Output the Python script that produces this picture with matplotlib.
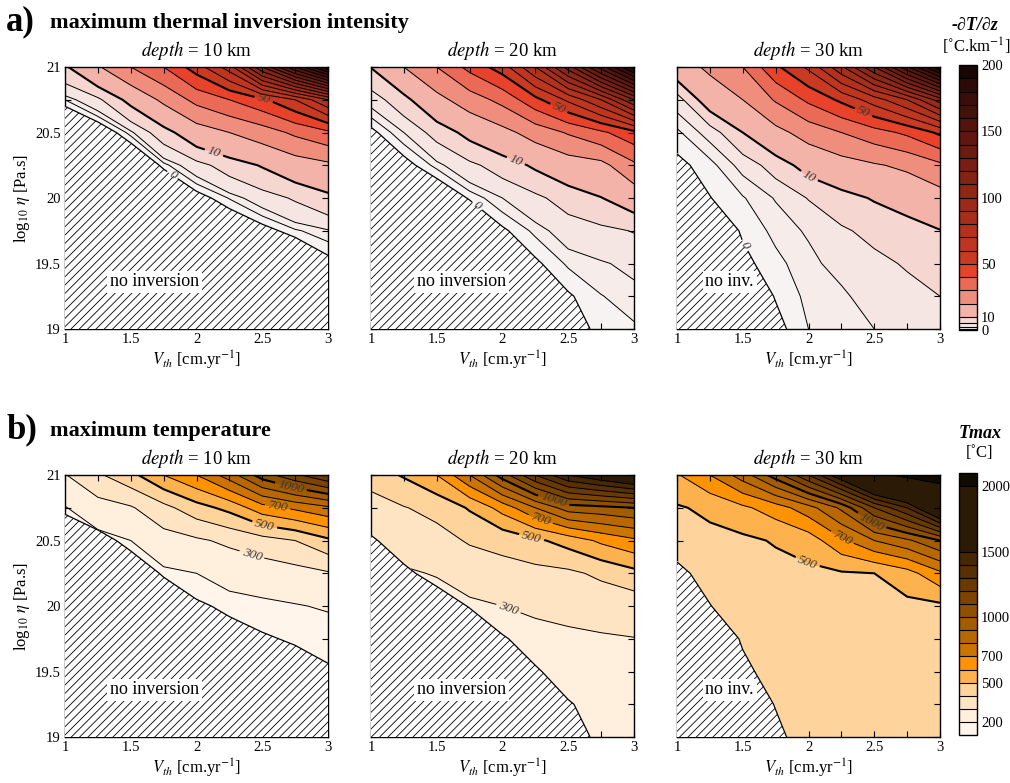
import numpy as np
import matplotlib
matplotlib.use("Agg")
import matplotlib.pyplot as plt
from matplotlib.ticker import MultipleLocator, FormatStrFormatter

plt.rcParams['font.family'] = ['Liberation Serif', 'DejaVu Serif']
plt.rcParams['mathtext.fontset'] = 'stix'
plt.rcParams['hatch.linewidth'] = 0.6
plt.rcParams['hatch.color'] = 'black'

# grid axes
v_th = [1.0, 1.25, 1.5, 1.75, 2.0, 2.25, 2.5, 2.75, 3.0]
log_eta = [19.0, 19.25, 19.5, 19.75, 20.0, 20.25, 20.5, 20.75, 21.0]
depths = [10, 20, 30]

# -dT/dz (degC/km), rows = log_eta (bottom -> top), cols = v_th; < 0 means no inversion
grad_10 = [
    [-34, -32, -28, -23, -20, -17, -15, -13, -10],
    [-29, -27, -23, -18, -15, -12, -10, -8, -5],
    [-24, -22, -18, -13, -10, -7, -5, -3.2, -0.6],
    [-19, -17, -13, -8, -5, -2.3, -0.8, 0.8, 1.8],
    [-14, -12, -8, -3.7, -0.9, 1.1, 3.2, 5.5, 8.5],
    [-9, -7, -3.2, 0.5, 3.5, 7, 10.5, 15, 18],
    [-4, -1.9, 1.5, 7.5, 15, 20, 25, 32, 38],
    [1, 4, 12, 22, 33, 40, 48, 60, 80],
    [9, 19, 30, 40, 55, 75, 120, 160, 198],
]
grad_20 = [
    [-30, -25, -18, -14, -12, -6, -1, 0.5, 0.85],
    [-25, -20, -14, -10, -8, -3, -0.2, 0.95, 1.5],
    [-20, -15, -10, -6.5, -4, -0.3, 1.2, 1.8, 2.5],
    [-15, -10, -6, -3, -0.3, 1.3, 3, 4, 5.2],
    [-10, -5, -2.1, 0.2, 2, 4, 7, 9.8, 14],
    [-5, -0.78, 1.4, 4, 7, 11, 15, 17, 28],
    [-0.53, 2, 6.5, 12, 17, 24, 31, 38, 47],
    [2.8, 8, 17, 25, 33, 47, 62, 80, 110],
    [10.2, 20, 30, 43, 55, 80, 115, 155, 195],
]
grad_30 = [
    [-10, -6, -2.5, -0.5, 1.0, 1.3, 2.0, 2.6, 3.6],
    [-8, -4.5, -1.5, 0.1, 1.3, 1.7, 2.8, 3.8, 5.0],
    [-6, -3, -0.4, 0.7, 1.6, 2.6, 4, 5.4, 6.8],
    [-4, -1.5, 0.2, 1.3, 2.2, 4.4, 6.2, 8, 9.8],
    [-2, -0.05, 0.9, 2.1, 5.2, 8, 10.5, 12.5, 16],
    [-0.4, 0.6, 2.5, 7, 12.5, 16, 19, 22, 28],
    [0.75, 2.6, 10, 17, 24, 30, 36, 42, 52],
    [2.8, 14, 20, 31, 42, 52, 65, 80, 105],
    [15, 22, 30, 48, 62, 88, 120, 158, 198],
]

# Tmax (degC), same layout
tmax_10 = [
    [80, 82, 85, 88, 92, 96, 100, 104, 108],
    [85, 90, 92, 95, 100, 105, 110, 115, 120],
    [95, 98, 100, 105, 110, 118, 125, 130, 138],
    [105, 108, 112, 120, 128, 140, 148, 155, 165],
    [115, 120, 130, 145, 155, 175, 185, 195, 208],
    [130, 140, 160, 185, 200, 230, 245, 265, 290],
    [150, 170, 200, 260, 285, 320, 360, 400, 480],
    [195, 260, 290, 370, 460, 530, 660, 720, 780],
    [295, 385, 470, 600, 700, 850, 1050, 1180, 1300],
]
tmax_20 = [
    [160, 178, 190, 202, 212, 220, 228, 235, 240],
    [170, 190, 202, 215, 225, 232, 240, 247, 252],
    [185, 205, 218, 232, 242, 250, 258, 265, 270],
    [200, 225, 238, 255, 265, 275, 285, 292, 298],
    [220, 250, 265, 285, 300, 315, 325, 335, 340],
    [250, 290, 305, 340, 365, 370, 380, 420, 470],
    [300, 340, 365, 410, 430, 480, 540, 620, 680],
    [350, 395, 430, 510, 640, 800, 950, 970, 1000],
    [450, 510, 600, 800, 1050, 1300, 1500, 1600, 1700],
]
tmax_30 = [
    [405, 415, 424, 434, 442, 447, 451, 454, 456],
    [408, 418, 428, 438, 446, 451, 455, 458, 460],
    [412, 422, 433, 444, 451, 456, 460, 462, 465],
    [418, 428, 440, 450, 457, 462, 466, 469, 472],
    [425, 435, 448, 458, 465, 470, 474, 476, 480],
    [435, 450, 460, 470, 480, 490, 500, 560, 680],
    [460, 475, 480, 508, 545, 680, 800, 880, 1000],
    [490, 520, 580, 650, 760, 920, 1200, 1400, 1750],
    [590, 700, 850, 1050, 1300, 1600, 1950, 2050, 2090],
]

grad_levels = [0, 1, 2, 5] + list(range(10, 210, 10))
grad_colors = ['#f7f3f2', '#f6edeb', '#f5e6e3', '#f5d6d1', '#f4b3a8', '#f08e7e',
               '#eb6a55', '#e8432a', '#c93a23', '#be3620', '#b3321e', '#a72e1b',
               '#9b2a19', '#8f2717', '#832315', '#771f13', '#6b1b11', '#5f180f',
               '#52140d', '#46110b', '#3a0e09', '#2d0a07', '#1a0504']
tmax_levels = list(range(100, 1600, 100)) + [2000, 2100]
tmax_colors = ['#fff5ea', '#ffefdc', '#ffe4c4', '#fed49c', '#feb24e', '#ff9200',
               '#cc7400', '#b86800', '#a35c00', '#8f5000', '#7b4400', '#693a03',
               '#573005', '#462706', '#2b1a05', '#100a02']

grad_lines = [1, 2, 5] + list(range(10, 200, 10))
tmax_lines = list(range(200, 1600, 100)) + [2000]
grad_labeled = [[10, 50], [10, 50], [10, 50]]
tmax_labeled = [[300, 500, 700, 1000], [300, 500, 700, 1000], [500, 700, 1000]]

# contour label spots (v_th, log_eta)
grad_label_pos = [
    [(2.14, 20.37), (2.51, 20.75)],
    [(2.10, 20.28), (2.42, 20.67)],
    [(2.01, 20.18), (2.42, 20.66)],
]
zero_label_pos = [(1.80, 20.15), (1.76, 19.88), (1.52, 19.64)]
tmax_label_pos = [
    [(2.42, 20.39), (2.52, 20.64), (2.62, 20.78), (2.72, 20.92)],
    [(2.06, 20.02), (2.22, 20.52), (2.29, 20.66), (2.39, 20.81)],
    [(2.00, 20.35), (2.26, 20.53), (2.49, 20.66)],
]
no_inv_text = ['no inversion', 'no inversion', 'no inv.']
no_inv_x = [1.68, 1.69, 1.40]

V, E = np.meshgrid(v_th, log_eta)

fig = plt.figure(figsize=(10.1, 7.83), dpi=100)
lefts = [0.0644, 0.3673, 0.6703]
bottoms = [0.5798, 0.0587]
W, H = 0.2604, 0.3346


def style_axes(ax, first):
    ax.set_xlim(1, 3)
    ax.set_ylim(19, 21)
    ax.xaxis.set_major_locator(MultipleLocator(0.5))
    ax.xaxis.set_minor_locator(MultipleLocator(0.25))
    ax.yaxis.set_major_locator(MultipleLocator(0.5))
    ax.yaxis.set_minor_locator(MultipleLocator(0.25))
    ax.xaxis.set_major_formatter(FormatStrFormatter('%g'))
    ax.yaxis.set_major_formatter(FormatStrFormatter('%g'))
    ax.tick_params(which='both', direction='in', top=True, right=True,
                   length=4, width=0.8, labelsize=10.5, pad=3)
    for s in ax.spines.values():
        s.set_linewidth(1.0)
    ax.set_xlabel(r'$V_{th}$ [cm.yr$^{-1}$]', fontsize=12, labelpad=2)
    if first:
        ax.set_ylabel(r'log$_{10}$ $\eta$ [Pa.s]', fontsize=12, labelpad=2)
    else:
        ax.tick_params(labelleft=False)


def label_lines(ax, cs, spots):
    txt = ax.clabel(cs, manual=spots, fmt='%g', fontsize=9.5, colors='#3a3a3a',
                    inline=True, inline_spacing=3)
    for t in txt:
        t.set_fontstyle('italic')
        t.set_zorder(6)


grads = [grad_10, grad_20, grad_30]
tmaxs = [tmax_10, tmax_20, tmax_30]

for row in range(2):
    for k in range(3):
        ax = fig.add_axes([lefts[k], bottoms[row], W, H])
        G = np.array(grads[k], dtype=float)
        if row == 0:
            Z, levels, colors, lines = G, grad_levels, grad_colors, grad_lines
            labeled, spots = grad_labeled[k], grad_label_pos[k]
        else:
            Z = np.array(tmaxs[k], dtype=float)
            levels, colors, lines = tmax_levels, tmax_colors, tmax_lines
            labeled, spots = tmax_labeled[k], tmax_label_pos[k]
        thick = [10, 50, 500, 1000]
        cf = ax.contourf(V, E, Z, levels=levels, colors=colors, zorder=1)
        plain = [l for l in lines if l not in labeled]
        lw = [1.5 if l in thick else 0.7 for l in plain]
        ax.contour(V, E, Z, levels=plain, colors='k', linewidths=lw, zorder=2)
        lw = [1.5 if l in thick else 0.7 for l in labeled]
        cl = ax.contour(V, E, Z, levels=labeled, colors='k', linewidths=lw, zorder=2)
        ax.contourf(V, E, G, levels=[-1000, 0], colors='white', hatches=['////'], zorder=3)
        zero = ax.contour(V, E, G, levels=[0], colors='k', linewidths=0.9, zorder=4)

        label_lines(ax, cl, spots)
        if row == 0:
            label_lines(ax, zero, [zero_label_pos[k]])

        ax.text(no_inv_x[k], 19.36, no_inv_text[k], fontsize=13, ha='center', va='center',
                zorder=7, bbox=dict(boxstyle='square,pad=0.15', fc='white', ec='none'))
        ax.set_title(r'$\mathit{depth}$ = %d km' % depths[k], fontsize=13.5, pad=8)
        style_axes(ax, k == 0)

        if k == 2:
            if row == 0:
                cax = fig.add_axes([0.9495, 0.5785, 0.0178, 0.3384])
                ticks = [0, 10, 50, 100, 150, 200]
            else:
                cax = fig.add_axes([0.9495, 0.0613, 0.0178, 0.3346])
                ticks = [200, 500, 700, 1000, 1500, 2000]
            cb = fig.colorbar(cf, cax=cax, spacing='proportional', ticks=ticks, drawedges=True)
            cb.dividers.set_linewidth(0.8)
            cb.outline.set_linewidth(1.0)
            cax.tick_params(length=0, labelsize=10.5, pad=3)
            cax.yaxis.set_major_formatter(FormatStrFormatter('%g'))

# panel titles
fig.text(0.006, 0.972, 'a)', fontsize=25, fontweight='bold', va='center')
fig.text(0.0495, 0.971, 'maximum thermal inversion intensity', fontsize=16,
         fontweight='bold', va='center')
fig.text(0.006, 0.451, 'b)', fontsize=25, fontweight='bold', va='center')
fig.text(0.0495, 0.450, 'maximum temperature', fontsize=16, fontweight='bold', va='center')

# colorbar titles
fig.text(0.9655, 0.968, '-∂T/∂z', fontsize=13, fontweight='bold', fontstyle='italic',
         ha='center', va='center')
fig.text(0.967, 0.941, '[˚C.km$^{-1}$]', fontsize=12, ha='center', va='center')
fig.text(0.970, 0.4460, 'Tmax', fontsize=13, fontweight='bold', fontstyle='italic',
         ha='center', va='center')
fig.text(0.970, 0.4210, '[˚C]', fontsize=12, ha='center', va='center')

fig.savefig('out.png', dpi=100)
